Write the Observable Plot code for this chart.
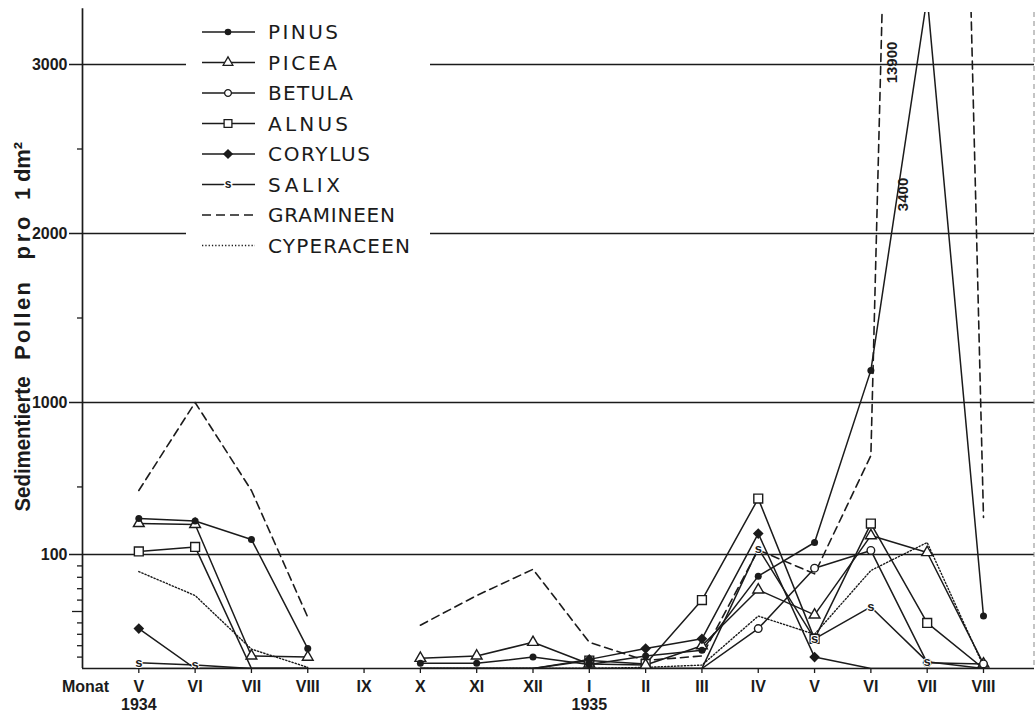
<!DOCTYPE html>
<html><head><meta charset="utf-8">
<script src="https://cdn.jsdelivr.net/npm/d3@7"></script>
<script src="https://cdn.jsdelivr.net/npm/@observablehq/plot@0.6"></script>
<style>html,body{margin:0;padding:0;background:#fff;} #chart{width:1036px;height:719px;overflow:hidden;position:relative}</style>
</head><body><div id="chart"></div><script>
// ---- data ----
const months = ["V","VI","VII","VIII","IX","X","XI","XII","I","II","III","IV","V","VI","VII","VIII"];
const years = [{label: "1934", month: 0}, {label: "1935", month: 8}];
const pinus      = [313, 298, 189, 17.5, null, 4.5, 4.5, 10, 3.5, 11, 16, 81, 171, 1190, 3400, 46];
const picea      = [284, 278, 11, 10, null, 9, 11, 23, 4, 3, 20, 69, 47, 212, 112, 4];
const betula     = [0, 0, 0, 0, null, 0, 0, 0, 0, 0, 0, 35, 88, 124, 5, 4];
const alnus      = [118, 145, 0, 0, null, 0, 0, 0, 7, 4, 60, 431, 26, 283, 40, 0];
const corylus    = [35, 0, 0, 0, null, 0, 0, 0, 8, 17.5, 26, 224, 10, 0, 0, 0];
const salix      = [5, 3, 0, 0, null, 0, 0, 0, 0, 0, 0, 136, 26, 54, 6, 0];
const gramineen  = [479, 1000, 479, 45, null, 38, 64, 87, 23, 7, 11, 127, 83, 686, 13900, 319];
const cyperaceen = [85, 64, 17, 1, null, 0, 0, 0, 0, 1, 3, 46, 30, 86, 171, 2];
const seriesNames = ["PINUS","PICEA","BETULA","ALNUS","CORYLUS","SALIX","GRAMINEEN","CYPERACEEN"];
const seriesValues = [pinus, picea, betula, alnus, corylus, salix, gramineen, cyperaceen];
const yBreaks = [0, 100, 1000, 2000, 3000];
const majorTicks = [100, 1000, 2000, 3000];
const minorTicks = [10, 20, 30, 40, 60, 70, 80, 90, 500, 1500, 2500];
const midTicks = [50];
const peakLabels = ["13900", "3400"];

// ---- build table ----
const rows = seriesNames.flatMap((name, k) => seriesValues[k].map((v, i) => ({name, i, v})));
const monthRows = months.map((m, i) => ({m, i}));
const pick = n => rows.filter(d => d.name === n);
const marked = n => rows.filter(d => d.name === n && d.v > 0);
const solid = rows.filter(d => ["PINUS","PICEA","BETULA","ALNUS","CORYLUS","SALIX"].includes(d.name));
const ink = "#1b1b1b";
const FONT = "'Liberation Sans', Arial, sans-serif";

const chart = Plot.plot({
  width: 1036, height: 719,
  marginLeft: 82, marginRight: 2, marginTop: 12, marginBottom: 51,
  x: {type: "linear", domain: [-1, 15], range: [82, 983]},
  y: {type: "linear", domain: yBreaks, range: [668, 554, 402, 233, 64]},
  style: {background: "#fff", color: ink, fontFamily: FONT, fontSize: "16px", fontWeight: "bold"},
  marks: [
    Plot.ruleY(majorTicks, {stroke: ink, strokeWidth: 1.5}),
    Plot.ruleY([0], {stroke: ink, strokeWidth: 1.7}),
    Plot.ruleX([-1], {y1: 0, y2: 3330, stroke: ink, strokeWidth: 1.7}),
    Plot.axisY({ticks: majorTicks, tickSize: 13, tickPadding: 2, tickFormat: d => String(d), label: null, strokeWidth: 1.5}),
    Plot.axisY({ticks: minorTicks, tickSize: 5, tickFormat: () => "", label: null, strokeWidth: 1.3}),
    Plot.axisY({ticks: midTicks, tickSize: 10, tickFormat: () => "", label: null, strokeWidth: 1.3}),
    Plot.axisX({ticks: monthRows.map(d => d.i), tickSize: 5, tickFormat: () => "", label: null, strokeWidth: 1.3}),
    Plot.text(monthRows, {x: "i", text: "m", frameAnchor: "bottom", dy: 18, lineAnchor: "middle"}),
    Plot.text(years, {x: "month", text: "label", frameAnchor: "bottom", dy: 36, lineAnchor: "middle"}),
    Plot.text(["Monat"], {frameAnchor: "bottom-left", dx: 3, dy: 18, textAnchor: "middle", lineAnchor: "middle"}),
    // series lines
    Plot.line(solid, {x: "i", y: "v", z: "name", stroke: ink, strokeWidth: 1.5, clip: true}),
    Plot.line(pick("GRAMINEEN"), {x: "i", y: "v", stroke: ink, strokeWidth: 1.6, strokeDasharray: "8,5", clip: true}),
    Plot.line(pick("CYPERACEEN"), {x: "i", y: "v", stroke: ink, strokeWidth: 1.4, strokeDasharray: "1.3,2", clip: true}),
    // markers
    Plot.dot(marked("ALNUS"), {x: "i", y: "v", symbol: "square", r: 5, fill: "white", stroke: ink, strokeWidth: 1.4, clip: true}),
    Plot.dot(marked("PICEA"), {x: "i", y: "v", symbol: "triangle", r: 4, fill: "white", stroke: ink, strokeWidth: 1.4, clip: true}),
    Plot.dot(marked("BETULA"), {x: "i", y: "v", symbol: "circle", r: 3.8, fill: "white", stroke: ink, strokeWidth: 1.4, clip: true}),
    Plot.dot(marked("PINUS"), {x: "i", y: "v", symbol: "circle", r: 3.5, fill: ink, clip: true}),
    Plot.dot(marked("CORYLUS"), {x: "i", y: "v", symbol: "diamond2", r: 4.8, fill: ink, clip: true}),
    Plot.text(marked("SALIX"), {x: "i", y: "v", text: () => "s", fontSize: 13, fontWeight: "bold", fill: ink, stroke: "white", strokeWidth: 2, paintOrder: "stroke", lineAnchor: "middle", clip: true}),
    // peak value annotations
    Plot.text([peakLabels[0]], {x: 13.37, y: 3012, rotate: -90, fontSize: 15, fontWeight: "bold", fill: ink}),
    Plot.text([peakLabels[1]], {x: 13.58, y: 2231, rotate: -90, fontSize: 15, fontWeight: "bold", fill: ink})
  ]
});
document.getElementById("chart").append(chart);

// ---- additions: y title, legend, right edge ----
const svg = d3.select(chart);
// right dashed edge
svg.append("line").attr("x1", 1034).attr("x2", 1034).attr("y1", 12).attr("y2", 668)
  .attr("stroke", "#8a8a8a").attr("stroke-width", 1).attr("stroke-dasharray", "5,4");

// y title words
const titleWords = [
  {t: "Sedimentierte", c: 444, len: 135, adj: "spacingAndGlyphs"},
  {t: "Pollen", c: 321, len: 78, adj: "spacing"},
  {t: "pro", c: 238, len: 43, adj: "spacing"},
  {t: "1 dm²", c: 171, len: 58, adj: "spacing"}
];
const tg = svg.append("g").attr("font-family", FONT).attr("font-weight", "bold").attr("font-size", 22).attr("fill", ink);
titleWords.forEach(w => {
  tg.append("text").attr("transform", `translate(30,${w.c}) rotate(-90)`)
    .attr("text-anchor", "middle").attr("textLength", w.len).attr("lengthAdjust", w.adj).text(w.t);
});

// legend
const lg = svg.append("g").attr("font-weight", "normal");
lg.append("rect").attr("x", 186).attr("y", 14).attr("width", 244).attr("height", 250).attr("fill", "white");
const legendWidths = [70, 69, 85, 80, 102, 72, 127, 142];
const rowY = k => 32 + k * 30.5;
const sym = (type, r) => d3.symbol(type, Math.PI * r * r)();
seriesNames.forEach((name, k) => {
  const y = rowY(k);
  const line = lg.append("line").attr("x1", 202).attr("x2", 255).attr("y1", y).attr("y2", y)
    .attr("stroke", ink).attr("stroke-width", 1.4);
  if (name === "GRAMINEEN") line.attr("stroke-dasharray", "9,5");
  if (name === "CYPERACEEN") line.attr("stroke-dasharray", "1.3,2");
  const g = lg.append("g").attr("transform", `translate(228,${y})`);
  if (name === "PINUS") g.append("path").attr("d", sym(d3.symbolCircle, 3.3)).attr("fill", ink);
  if (name === "PICEA") g.append("path").attr("d", sym(d3.symbolTriangle, 3.6)).attr("fill", "white").attr("stroke", ink).attr("stroke-width", 1.3);
  if (name === "BETULA") g.append("path").attr("d", sym(d3.symbolCircle, 3.4)).attr("fill", "white").attr("stroke", ink).attr("stroke-width", 1.3);
  if (name === "ALNUS") g.append("path").attr("d", sym(d3.symbolSquare, 4.4)).attr("fill", "white").attr("stroke", ink).attr("stroke-width", 1.3);
  if (name === "CORYLUS") g.append("path").attr("d", sym(d3.symbolDiamond2, 4.6)).attr("fill", ink);
  if (name === "SALIX") g.append("text").attr("text-anchor", "middle").attr("dy", "0.32em")
    .attr("font-family", FONT).attr("font-weight", "bold").attr("font-size", 12).attr("fill", ink)
    .attr("stroke", "white").attr("stroke-width", 3).attr("paint-order", "stroke").text("s");
  lg.append("text").attr("x", 268).attr("y", y).attr("dy", "0.36em").attr("text-anchor", "start")
    .attr("font-family", "'DejaVu Sans', sans-serif").attr("font-size", 20).attr("font-weight", "normal").attr("fill", ink)
    .attr("textLength", legendWidths[k]).attr("lengthAdjust", "spacing").text(name);
});
</script></body></html>
